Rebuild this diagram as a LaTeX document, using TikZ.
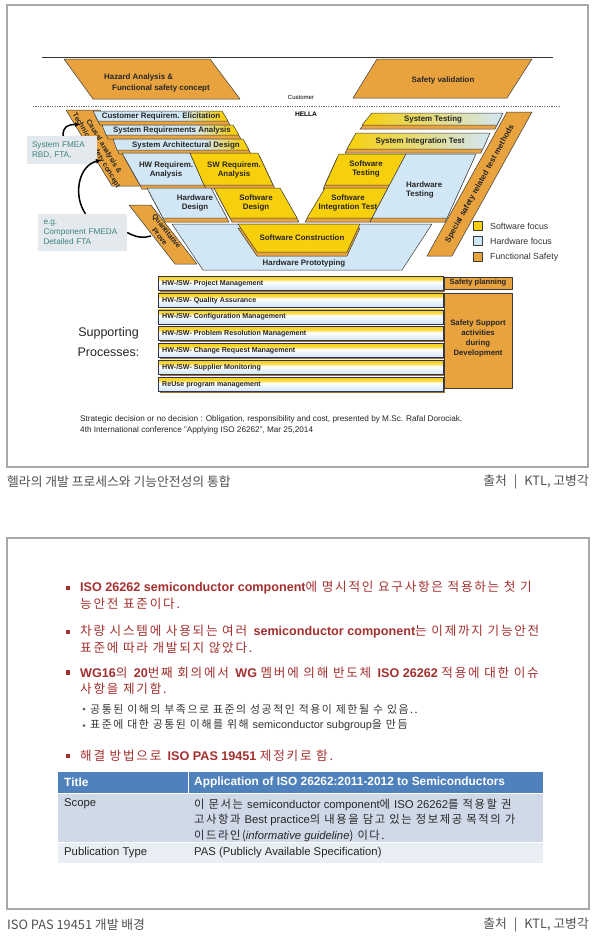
\documentclass[tikz,border=0pt]{standalone}
\usepackage{fontspec}
\setmainfont{Liberation Sans}
\newfontfamily\kr{Noto Sans CJK KR}
\newfontfamily\krw[LetterSpace=14]{Noto Sans CJK KR}
\usetikzlibrary{arrows.meta}
\definecolor{fsor}{HTML}{E8A33E}
\definecolor{swy}{HTML}{F7CF0A}
\definecolor{hwb}{HTML}{D2E7F6}
\definecolor{edgec}{HTML}{3B3B3B}
\definecolor{annteal}{HTML}{3F8283}
\definecolor{annbg}{HTML}{E3E9EC}
\definecolor{framec}{HTML}{A8A8A8}
\definecolor{redk}{HTML}{A3302E}
\definecolor{thead}{HTML}{4F81BD}
\definecolor{trow1}{HTML}{D0D9E8}
\definecolor{trow2}{HTML}{E9EDF4}
\definecolor{capc}{HTML}{505050}
\pgfdeclarehorizontalshading{bluy}{100bp}{color(0bp)=(hwb); color(25bp)=(hwb); color(58bp)=(hwb); color(73bp)=(swy); color(100bp)=(swy)}
\pgfdeclareverticalshading{barsh}{100bp}{color(0bp)=(hwb); color(25bp)=(hwb); color(40bp)=(hwb!55); color(54bp)=(white); color(64bp)=(swy!75); color(75bp)=(swy); color(100bp)=(swy)}
\newcommand\vlayer[3]{\draw[fso,shift={#2}] #3 -- cycle; \draw[#1] #3 -- cycle;}
\begin{document}
\begin{tikzpicture}[x=1pt,y=-1pt,
  slab/.style={draw=edgec, line width=0.5pt, line join=round},
  fso/.style={slab, fill=fsor},
  hwbox/.style={slab, fill=hwb},
  swbox/.style={slab, fill=swy},
  lstack/.style={slab, shade, shading=bluy},
  rstack/.style={slab, left color=swy, right color=hwb},
  blab/.style={font=\bfseries\fontsize{7.9}{8.8}\selectfont, align=center, inner sep=0pt, text=black!85},
  rlab/.style={font=\bfseries\fontsize{7.2}{8}\selectfont, align=center, inner sep=0pt, text=black!85},
  cword/.style={rlab, rotate=-59, anchor=base west},
  sword/.style={blab, rotate=61, anchor=base west},
  leg/.style={font=\fontsize{8.8}{10}\selectfont, anchor=west, inner sep=0pt, text=black!80},
  barbox/.style={draw=edgec!85!blue, line width=0.5pt, shade, shading=barsh},
  barlab/.style={font=\bfseries\fontsize{7.1}{8}\selectfont, inner sep=0pt, anchor=west, text=black!85},
  annbox/.style={fill=annbg, text=annteal, font=\fontsize{8.2}{10}\selectfont, align=left, inner sep=0pt},
  annarr/.style={line width=1.5pt, -{Latex[length=5pt,width=5pt]}},
  foot/.style={font=\fontsize{8.2}{9}\selectfont, anchor=west, inner sep=0pt, text=black!85},
  kline/.style={anchor=west, inner sep=0pt, text=redk, font=\fontsize{12.6}{14}\selectfont},
  sline/.style={anchor=west, inner sep=0pt, text=black!80, font=\fontsize{10.9}{12}\selectfont},
  bsq/.style={fill=redk, minimum size=4.2pt, inner sep=0pt},
  sdot/.style={circle, fill=black!65, minimum size=3pt, inner sep=0pt},
  tcell/.style={anchor=west, inner sep=0pt, text=black!85, font=\fontsize{11.3}{15.5}\selectfont, align=left},
  thcell/.style={anchor=west, inner sep=0pt, text=white, font=\bfseries\fontsize{11.9}{13}\selectfont},
  captext/.style={inner sep=0pt, text=capc, font=\kr\fontsize{12.8}{14}\selectfont}
]
\useasboundingbox (0,0) rectangle (600,948);
\fill[white] (0,0) rectangle (600,948);

% ---------- frames ----------
\draw[framec, line width=1.3pt] (7,5) rectangle (588,467);
\draw[framec, line width=1.3pt] (7,538) rectangle (589,909);

% ---------- top of V ----------
\draw[line width=0.7pt, black!80] (42,57) -- (553,57);
\draw[fso] (64,59) -- (210,59) -- (240,99) -- (93,99) -- cycle;
\node[blab, anchor=west] (haz1) at (104,77) {Hazard Analysis \&};
\node[blab, anchor=west] (haz2) at (112,88) {Functional safety concept};
\draw[fso] (377,59) -- (532,59) -- (507,98) -- (353,98) -- cycle;
\node[blab] (sval) at (443,80) {Safety validation};
\node[font=\fontsize{6}{7}\selectfont, inner sep=0pt] (cust) at (301,97) {Customer};
\draw[black!60, line width=0.7pt, dash pattern=on 1.2pt off 1.2pt] (33,106) -- (560,106);
\node[font=\bfseries\fontsize{6.6}{7}\selectfont, inner sep=0pt] (hella) at (306,114) {HELLA};

% ---------- functional safety bands ----------
\draw[fso] (66,110) -- (100,110) -- (146,186) -- (112,186) -- cycle;
\node[cword] (ca1) at (86.1,121.1) {Causal\ };
\node[cword] (ca2) at (ca1.base east) {analysis\ };
\node[cword] (ca3) at (ca2.base east) {\&};
\node[cword] (cb1) at (72.3,114.6) {Technical\ };
\node[cword] (cb2) at (cb1.base east) {safety\ };
\node[cword] (cb3) at (cb2.base east) {concept};
\draw[fso] (129,205) -- (151,205) -- (197,264) -- (175,264) -- cycle;
\node[rlab, rotate=-52] (quant1) at (166.2,231.5) {Quantitative};
\node[rlab, rotate=-52] (quant2) at (159.8,236.5) {Prove};
\draw[fso] (507,112) -- (532,112) -- (452,256) -- (427,256) -- cycle;
\node[sword] (sp1) at (449.2,243.6) {Special\ };
\node[sword] (sp2) at (sp1.base east) {safety\ };
\node[sword] (sp3) at (sp2.base east) {related\ };
\node[sword] (sp4) at (sp3.base east) {test\ };
\node[sword] (sp5) at (sp4.base east) {methods};

% ---------- left side ----------
\vlayer{lstack}{(2,4)}{(93,111) -- (222,111) -- (228,121) -- (98,121)}
\node[blab] (cre) at (161,116.5) {Customer Requirem. Elicitation};
\vlayer{lstack}{(2,4)}{(102,125) -- (233,125) -- (239,135) -- (106,135)}
\node[blab] (sra) at (172,130.5) {System Requirements Analysis};
\vlayer{lstack}{(2,4)}{(113,139) -- (243,139) -- (249,150) -- (117,150)}
\node[blab] (sad) at (186,145) {System Architectural Design};
\vlayer{hwbox}{(2,4)}{(122,153) -- (190,153) -- (204,185) -- (140,185)}
\node[blab] (hwr) at (166,170) {HW Requirem.\\Analysis};
\vlayer{swbox}{(2,4)}{(190,153) -- (258,153) -- (273,185) -- (204,185)}
\node[blab] (swr) at (234,170) {SW Requirem.\\Analysis};
\vlayer{hwbox}{(2,4)}{(147,188) -- (211,188) -- (227,218) -- (163,218)}
\node[blab] (hwd) at (195,203) {Hardware\\Design};
\vlayer{swbox}{(2,4)}{(214,188) -- (280,188) -- (297,218) -- (230,218)}
\node[blab] (swd) at (256,203) {Software\\Design};

% ---------- right side ----------
\vlayer{rstack}{(-2,4)}{(372,113) -- (503,113) -- (497,125) -- (362,125)}
\node[blab] (st) at (433,119.5) {System Testing};
\vlayer{rstack}{(-2,4)}{(356,133) -- (490,133) -- (483,149) -- (347,149)}
\node[blab] (sit) at (420,141.5) {System Integration Test};
\vlayer{swbox}{(-2,4)}{(339,154) -- (406,154) -- (390,185) -- (325,185)}
\node[blab] (swt) at (366,169) {Software\\Testing};
\vlayer{swbox}{(-2,4)}{(325,188) -- (388,188) -- (372,218) -- (307,218)}
\node[blab] (swit) at (348,203) {Software\\Integration Test};
\vlayer{hwbox}{(-2,4)}{(406,154) -- (476,154) -- (447,218) -- (372,218)}
\node[blab, anchor=west, align=left] (hwt) at (406,190) {Hardware\\Testing};

% ---------- bottom of V ----------
\draw[hwbox] (172,224) -- (432,224) -- (402,270) -- (203,270) -- cycle;
\node[blab] (hwp) at (304,263) {Hardware Prototyping};
\vlayer{swbox}{(0,4)}{(238,224) -- (360,224) -- (347,252) -- (257,252)}
\node[blab] (swc) at (302,238) {Software Construction};

% ---------- legend ----------
\draw[slab, fill=swy] (473,221) rectangle (482,230);
\node[leg] (lsw) at (490,226) {Software focus};
\draw[slab, fill=hwb] (473,236.5) rectangle (482,245.5);
\node[leg] (lhw) at (490,241.5) {Hardware focus};
\draw[slab, fill=fsor] (473,252) rectangle (482,261);
\node[leg] (lfs) at (490,257) {Functional Safety};

% ---------- annotations ----------
\node[annbox, minimum width=70pt, minimum height=28pt, text width=60pt] (fmea) at (62,150) {System FMEA\\RBD, FTA,};
\node[annbox, minimum width=89pt, minimum height=37pt, text width=78pt] (eg) at (82.5,232.5) {e.g.\\Component FMEDA\\Detailed FTA};
\coordinate (a1) at (80,124.5);
\coordinate (a2) at (101,160);
\coordinate (a3) at (151,236);
\draw[annarr] ([xshift=1pt]fmea.north) .. controls (63,127) and (67,124.5) .. (a1);
\draw[annarr] ([xshift=3pt]eg.north) .. controls (73,196) and (78,166) .. (a2);
\draw[line width=1.5pt] (eg.east) .. controls (137,238) and (144,238) .. (a3);

% ---------- supporting processes ----------
\node[font=\fontsize{12.5}{20}\selectfont, align=center, inner sep=0pt, text=black!85] (supp) at (108.5,342) {Supporting\\Processes:};
\foreach \t [count=\i from 0] in {{HW-/SW- Project Management},{HW-/SW- Quality Assurance},{HW-/SW- Configuration Management},{HW-/SW- Problem Resolution Management},{HW-/SW- Change Request Management},{HW-/SW- Supplier Monitoring},{ReUse program management}}{
  \pgfmathsetmacro\yy{276+16.9*\i}
  \fill[fsor!70!black] (159.5,\yy+1.5) rectangle (444.5,\yy+15.5);
  \draw[barbox] (158,\yy) rectangle (443,\yy+14);
  \node[barlab] (bar\i) at (162,\yy+7.3) {\t};
}
\draw[fso] (444,277) rectangle (512,289);
\node[blab, font=\bfseries\fontsize{7.6}{8}\selectfont] (splan) at (478,283) {Safety planning};
\draw[fso] (444,293) rectangle (512,388);
\node[blab, font=\bfseries\fontsize{7.8}{10}\selectfont] (ssup) at (478,338) {Safety Support\\activities\\during\\Development};

% ---------- footnote and caption ----------
\node[foot] (fn1) at (80,419) {Strategic decision or no decision : Obligation, responsibility and cost, presented by M.Sc. Rafal Dorociak.};
\node[foot] (fn2) at (80,430.5) {4th International conference "Applying ISO 26262", Mar 25,2014};
\node[captext, anchor=west] (cap1) at (7,482) {헬라의 개발 프로세스와 기능안전성의 통합};
\node[captext, anchor=east] (src1) at (589,482) {출처\hspace{7pt}|\hspace{7pt}KTL, 고병각};

% ---------- bottom panel ----------
\node[bsq] (q1) at (68,588) {};
\node[kline] (l1) at (80,588) {\textbf{ISO 26262 semiconductor component}{\krw 에 명시적인 요구사항은 적용하는 첫 기}};
\node[kline] (l2) at (80,603.5) {\krw 능안전 표준이다.};
\node[bsq] (q2) at (68,632) {};
\node[kline] (l3) at (80,632) {{\krw 차량 시스템에 사용되는 여러 }\textbf{semiconductor component}{\krw 는 이제까지 기능안전}};
\node[kline] (l4) at (80,647.5) {\krw 표준에 따라 개발되지 않았다.};
\node[bsq] (q3) at (68,672.5) {};
\node[kline] (l5) at (80,672.5) {\textbf{WG16}{\krw 의 }\textbf{20}{\krw 번째 회의에서 }\textbf{WG} {\krw 멤버에 의해 반도체 }\textbf{ISO 26262} {\krw 적용에 대한 이슈}};
\node[kline] (l6) at (80,688.5) {\krw 사항을 제기함.};
\node[sdot] (d1) at (84,709) {};
\node[sline] (s1) at (90,709) {\krw 공통된 이해의 부족으로 표준의 성공적인 적용이 제한될 수 있음..};
\node[sdot] (d2) at (84,725.5) {};
\node[sline] (s2) at (90,725.5) {{\krw 표준에 대한 공통된 이해를 위해 }semiconductor subgroup{\krw 을 만듬}};
\node[bsq] (q4) at (68,756) {};
\node[kline] (l7) at (80,756) {{\krw 해결 방법으로 }\textbf{ISO PAS 19451} {\krw 제정키로 함.}};

% table
\fill[thead] (58,772) rectangle (543,793);
\fill[trow1] (58,794) rectangle (543,842);
\fill[trow2] (58,843) rectangle (543,863);
\draw[white, line width=0.8pt] (188,772) -- (188,793);
\node[thcell] (th1) at (64,782.5) {Title};
\node[thcell] (th2) at (194,782.5) {Application of ISO 26262:2011-2012 to Semiconductors};
\node[tcell, anchor=north west] (tc1) at (64,798.5) {Scope};
\node[tcell, anchor=north west] (tc2) at (194,798.5) {{\krw 이 문서는 }semiconductor component{\krw 에 }ISO 26262{\krw 를 적용할 권}\\{\krw 고사항과 }Best practice{\krw 의 내용을 담고 있는 정보제공 목적의 가}\\{\krw 이드라인(}\textit{informative guideline}{\krw ) 이다.}};
\node[tcell] (tc3) at (64,853) {Publication Type};
\node[tcell] (tc4) at (194,853) {PAS (Publicly Available Specification)};

\node[captext, anchor=west] (cap2) at (7,925) {ISO PAS 19451 개발 배경};
\node[captext, anchor=east] (src2) at (589,925) {출처\hspace{7pt}|\hspace{7pt}KTL, 고병각};
\end{tikzpicture}
\end{document}
